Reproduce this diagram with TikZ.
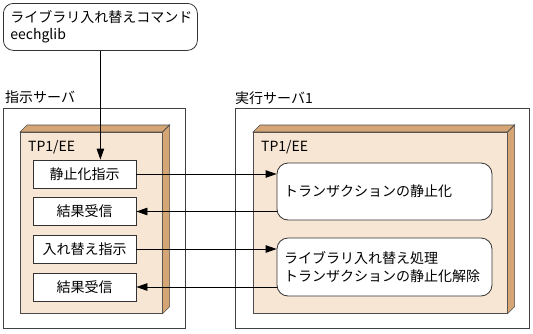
\documentclass[tikz,border=0pt]{standalone}
\usepackage{fontspec}
\setmainfont{Noto Sans CJK JP}
\usetikzlibrary{arrows.meta,positioning}
\definecolor{tpfront}{RGB}{248,230,212}
\definecolor{tpdark}{RGB}{214,165,118}

\begin{document}
\begin{tikzpicture}[x=1pt, y=-1pt,
  jp/.style={font=\fontsize{14}{17.5}\selectfont},
  server/.style={draw=black!75, line width=0.8pt, anchor=north west},
  tp/.style={draw=black!70, line width=0.6pt, fill=tpfront, anchor=north west},
  tpface/.style={draw=black!70, line width=0.6pt, fill=tpdark},
  task/.style={draw=black!80, line width=0.8pt, fill=white, jp,
               minimum width=103pt, minimum height=28pt, inner sep=0pt},
  proc/.style={draw=black!80, line width=0.8pt, fill=white, rounded corners=11pt,
               jp, align=left, text width=201pt, inner sep=7pt,
               minimum width=215pt},
  msg/.style={line width=0.8pt, -{Triangle[length=11pt, width=7.5pt]}},
]
  \useasboundingbox[fill=white] (0,0) rectangle (533,333);

  % Command
  \node[draw=black!80, line width=0.8pt, rounded corners=10pt, jp, align=left,
        anchor=north west, minimum width=194pt, minimum height=45pt,
        text width=180pt, inner sep=7pt] (cmd) at (3,3)
    {ライブラリ入れ替えコマンド\\eechglib};

  % Servers
  \node[jp, anchor=west, inner sep=0pt] (instLabel) at (5,97) {指示サーバ};
  \node[server, minimum width=182pt, minimum height=220pt] (inst) at (3,108) {};
  \node[jp, anchor=west, inner sep=0pt] (execLabel) at (235,98) {実行サーバ1};
  \node[server, minimum width=294pt, minimum height=220pt] (exec) at (235,108) {};

  % TP1/EE boxes
  \node[tp, minimum width=142pt, minimum height=181pt] (tpL) at (20,132) {};
  \fill[tpface] (tpL.north west) -- ++(7,-7) -- ([shift={(7,-7)}]tpL.north east)
    -- (tpL.north east) -- cycle;
  \fill[tpface] (tpL.north east) -- ++(7,-7) -- ([shift={(7,-7)}]tpL.south east)
    -- (tpL.south east) -- cycle;
  \node[jp, anchor=west, inner sep=0pt] (tpLlabel) at (28,147) {TP1/EE};

  \node[tp, minimum width=254pt, minimum height=181pt] (tpR) at (253,132) {};
  \fill[tpface] (tpR.north west) -- ++(7,-7) -- ([shift={(7,-7)}]tpR.north east)
    -- (tpR.north east) -- cycle;
  \fill[tpface] (tpR.north east) -- ++(7,-7) -- ([shift={(7,-7)}]tpR.south east)
    -- (tpR.south east) -- cycle;
  \node[jp, anchor=west, inner sep=0pt] (tpRlabel) at (261,147) {TP1/EE};

  % Instruction side
  \node[task] (stop) at (84.5,174) {静止化指示};
  \node[task] (res1) at (84.5,211.5) {結果受信};
  \node[task] (swap) at (84.5,249) {入れ替え指示};
  \node[task] (res2) at (84.5,287) {結果受信};

  % Execution side
  \node[proc, minimum height=57pt] (proc1) at (384.5,191.5)
    {トランザクションの静止化};
  \node[proc, minimum height=58pt] (proc2) at (384.5,267)
    {ライブラリ入れ替え処理\\トランザクションの静止化解除};

  % Messages
  \draw[msg] (cmd.south) -- (cmd.south |- stop.north);
  \draw[msg] (stop.east) -- (stop.east -| proc1.west);
  \draw[msg] (res1.east -| proc1.west) -- (res1.east);
  \draw[msg] (swap.east) -- (swap.east -| proc2.west);
  \draw[msg] (res2.east -| proc2.west) -- (res2.east);
\end{tikzpicture}
\end{document}
